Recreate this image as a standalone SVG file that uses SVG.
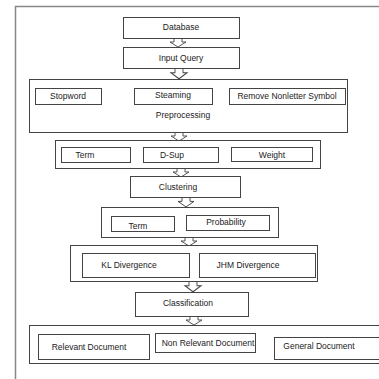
<svg xmlns="http://www.w3.org/2000/svg" width="379" height="379" viewBox="0 0 379 379">
<style>
.b{fill:#fff;stroke:#444;stroke-width:1}
.t{font-family:"Liberation Sans",Arial,sans-serif;font-size:8.5px;fill:#222;text-anchor:middle}
.a{fill:#fff;stroke:#444;stroke-width:0.9}
</style>
<defs>
<path id="arr" d="M-4,0 V4 H-8 L0,9 L8,4 H4 V0"/>
</defs>
<rect width="379" height="379" fill="#fff"/>
<path d="M15.5,379 V6.5 H379" fill="none" stroke="#888" stroke-width="1.5"/>
<g id="connectors">
<use href="#arr" class="a" transform="translate(178,38)"/>
<use href="#arr" class="a" transform="translate(179,68) scale(1,1.2)"/>
<use href="#arr" class="a" transform="translate(179,132)"/>
<use href="#arr" class="a" transform="translate(181,168)"/>
<use href="#arr" class="a" transform="translate(186,197) scale(1,1.1)"/>
<use href="#arr" class="a" transform="translate(189,237)"/>
<use href="#arr" class="a" transform="translate(193,281) scale(1,1.2)"/>
<use href="#arr" class="a" transform="translate(194,316)"/>
</g>
<g id="database"><rect class="b" x="123.5" y="17.5" width="116" height="21"/><text class="t" x="181" y="30">Database</text></g>
<g id="input-query"><rect class="b" x="123.5" y="47.5" width="116" height="21"/><text class="t" x="181" y="61">Input Query</text></g>
<g id="preprocessing"><rect class="b" x="29.5" y="79.5" width="318" height="53"/><text class="t" x="183" y="118">Preprocessing</text></g>
<g id="stopword"><rect class="b" x="35.5" y="88.5" width="66" height="16"/><text class="t" x="68" y="99">Stopword</text></g>
<g id="steaming"><rect class="b" x="134.5" y="88.5" width="78" height="16"/><text class="t" x="173" y="98">Steaming</text></g>
<g id="remove-nonletter"><rect class="b" x="229.5" y="88.5" width="116" height="16"/><text class="t" x="287" y="99">Remove Nonletter Symbol</text></g>
<g id="features"><rect class="b" x="55.5" y="140.5" width="265" height="28"/></g>
<g id="term1"><rect class="b" x="61.5" y="147.5" width="69" height="15"/><text class="t" x="85" y="158">Term</text></g>
<g id="dsup"><rect class="b" x="143.5" y="147.5" width="75" height="15"/><text class="t" x="172" y="158">D-Sup</text></g>
<g id="weight"><rect class="b" x="231.5" y="147.5" width="81" height="14"/><text class="t" x="272" y="158">Weight</text></g>
<g id="clustering"><rect class="b" x="130.5" y="176.5" width="110" height="21"/><text class="t" x="178" y="190">Clustering</text></g>
<g id="term-prob"><rect class="b" x="101.5" y="207.5" width="177" height="30"/></g>
<g id="term2"><rect class="b" x="111.5" y="216.5" width="63" height="15"/><text class="t" x="138" y="229">Term</text></g>
<g id="probability"><rect class="b" x="186.5" y="215.5" width="83" height="15"/><text class="t" x="226" y="225">Probability</text></g>
<g id="divergence"><rect class="b" x="70.5" y="245.5" width="247" height="36"/></g>
<g id="kl"><rect class="b" x="82.5" y="253.5" width="107" height="24"/><text class="t" x="129" y="268">KL Divergence</text></g>
<g id="jhm"><rect class="b" x="199.5" y="253.5" width="116" height="24"/><text class="t" x="248" y="268">JHM Divergence</text></g>
<g id="classification"><rect class="b" x="135.5" y="292.5" width="113" height="24"/><text class="t" x="188" y="306">Classification</text></g>
<g id="documents"><rect class="b" x="29.5" y="325.5" width="360" height="38"/></g>
<g id="relevant"><rect class="b" x="38.5" y="334.5" width="111" height="25"/><text class="t" x="89" y="350">Relevant Document</text></g>
<g id="non-relevant"><rect class="b" x="155.5" y="333.5" width="100" height="19"/><text class="t" x="208" y="346">Non Relevant Document</text></g>
<g id="general"><rect class="b" x="274.5" y="337.5" width="110" height="22"/><text class="t" x="319" y="349">General Document</text></g>
</svg>
